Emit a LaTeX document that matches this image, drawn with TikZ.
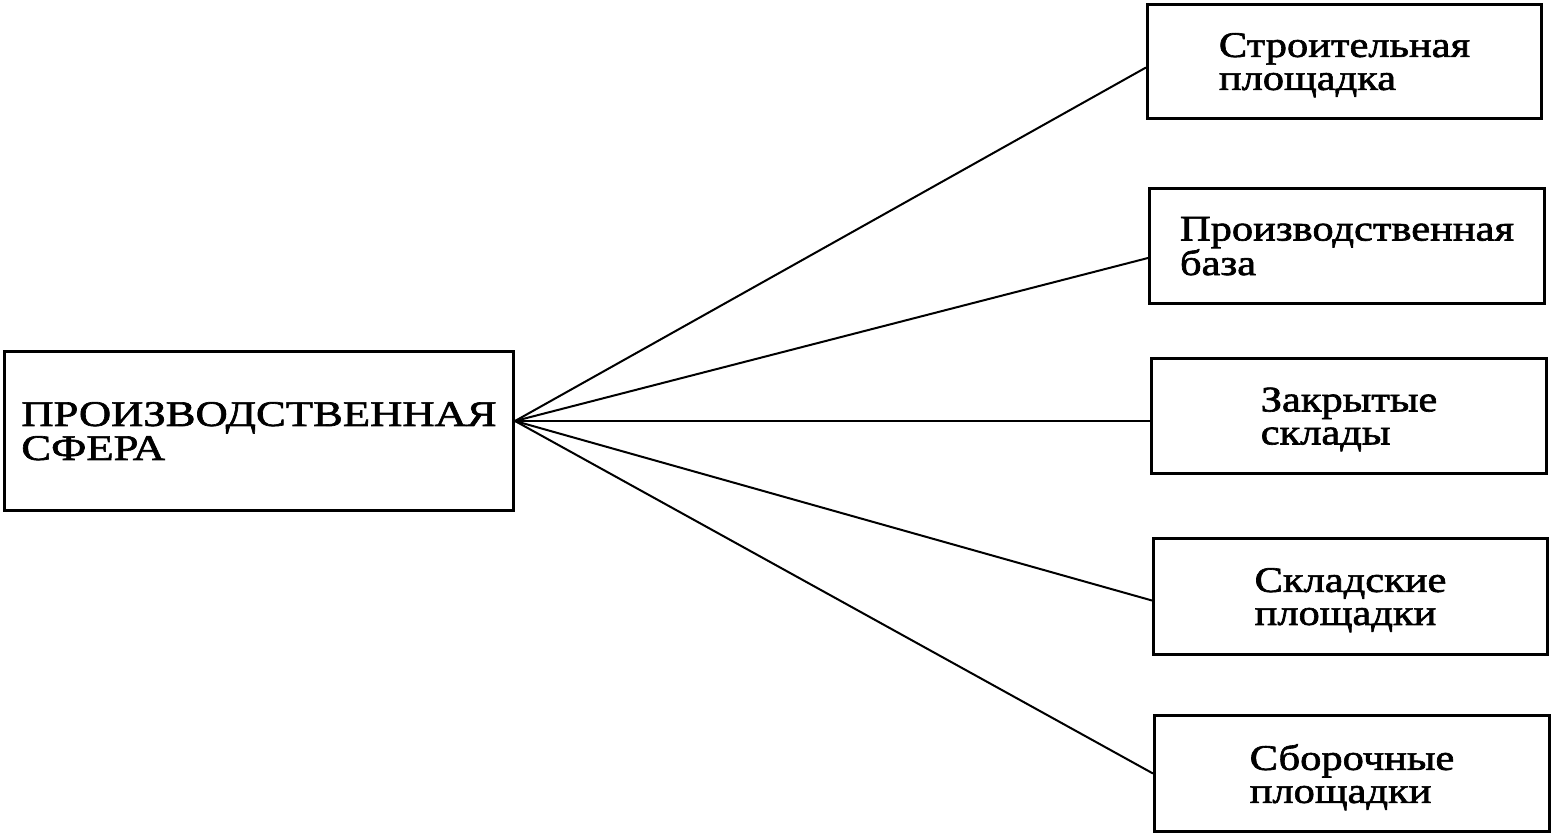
\documentclass[tikz,border=0pt]{standalone}
\usepackage{fontspec}
\usetikzlibrary{calc}
\setmainfont{Liberation Serif}[FakeStretch=1.18,FakeBold=1.8]
\newfontfamily\mainbig{Liberation Serif}[FakeStretch=1.24,FakeBold=1.8]
\begin{document}
\begin{tikzpicture}[x=1pt,y=-1pt,
  box/.style={draw,line width=3pt,inner sep=0pt,align=left,
    font=\fontsize{36}{33}\selectfont,text depth=0pt},
  link/.style={line width=2pt}]
\useasboundingbox (0,0) rectangle (1553,835);
\node[box,font=\mainbig\fontsize{36}{34}\selectfont,minimum width=509,minimum height=159] (main) at (259,431) {ПРОИЗВОДСТВЕННАЯ\\СФЕРА};
\node[box,minimum width=394,minimum height=114] (b1) at (1344.5,61.5) {Строительная\\площадка};
\node[box,minimum width=395,minimum height=115] (b2) at (1347,246) {Производственная\\база};
\node[box,minimum width=395,minimum height=115] (b3) at (1349,416) {Закрытые\\склады};
\node[box,minimum width=394,minimum height=116] (b4) at (1350.5,596.5) {Складские\\площадки};
\node[box,minimum width=395,minimum height=116] (b5) at (1352,773.5) {Сборочные\\площадки};
\coordinate (hub) at (515,421);
\draw[link] (hub) -- ($(b1.west)+(0,6)$);
\draw[link] (hub) -- ($(b2.west)+(0,12)$);
\draw[link] (hub) -- ($(b3.west)+(0,5)$);
\draw[link] (hub) -- ($(b4.west)+(0,4)$);
\draw[link] (hub) -- (b5.west);
\end{tikzpicture}
\end{document}
